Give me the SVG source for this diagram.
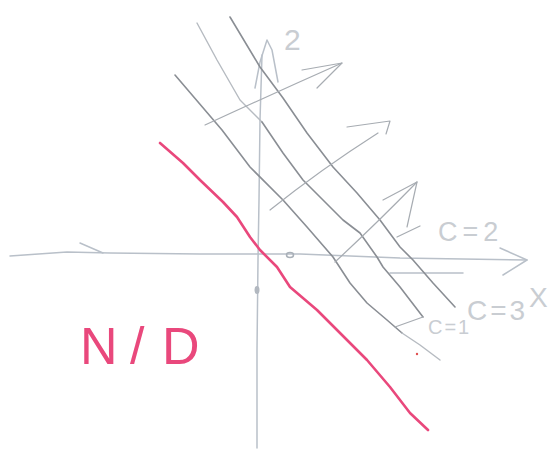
<svg xmlns="http://www.w3.org/2000/svg" width="551" height="453" viewBox="0 0 551 453">
<style>
.ax{fill:none;stroke:#b9c0c9;stroke-width:1.5;stroke-linecap:round;stroke-linejoin:round}
.lvd{fill:none;stroke:#8a8e94;stroke-width:1.6;stroke-linecap:round;stroke-linejoin:round}
.lvl{fill:none;stroke:#b6bbc1;stroke-width:1.4;stroke-linecap:round;stroke-linejoin:round}
.arr{fill:none;stroke:#a7acb2;stroke-width:1.2;stroke-linecap:round;stroke-linejoin:round}
.pk{fill:none;stroke:#e9487c;stroke-width:2.6;stroke-linecap:round;stroke-linejoin:round}
.lbl{font-family:"Liberation Sans",Arial,sans-serif;fill:#c9cdd2}
.nd{font-family:"Liberation Sans",Arial,sans-serif;fill:#e9487c;font-size:52px}
</style>
<rect width="551" height="453" fill="#ffffff"/>
<g id="axes">
<path class="ax" d="M10,256 L67,252 L110,253 L200,254 L260,254 L300,254 L400,258 L527,260"/>
<path class="ax" d="M500,248 L527,260 L503,275"/>
<path class="ax" d="M80,243 L103,253"/>
<path class="ax" d="M390,273 L463,273" stroke-width="1.1"/>
<path class="ax" d="M262,55 L260,120 L259,200 L258,260 L257,350 L257,448"/>
<path class="ax" d="M255,88 L260,62 L267,40 L272,50 L278,82"/>
<ellipse cx="290" cy="255" rx="3.5" ry="2.5" fill="none" stroke="#a9b0b8" stroke-width="1.5"/>
<ellipse cx="257" cy="290" rx="2.5" ry="4" fill="#b2b8c0"/>
<text class="lbl" x="284" y="50" font-size="30">2</text>
<text class="lbl" x="529" y="307" font-size="28">X</text>
</g>
<g id="level-curves">
<path class="lvd" d="M175,75 L222,130 L250,167 L283,200 L307,227 L333,257 L350,283 L367,303 L387,320 L402,333"/>
<path class="lvl" d="M402,333 L420,345 L440,360" stroke="#bccbd4"/>
<path class="lvl" d="M197,23 L217,60 L240,100 L262,122"/>
<path class="lvd" d="M262,122 L283,153 L303,180 L323,200 L343,220 L360,233 L377,257 L383,267 L400,287 L423,317"/>
<path class="lvd" d="M230,17 L260,67 L283,98 L307,133 L333,167 L357,193 L380,220 L400,247 L413,260 L433,283 L455,307"/>
</g>
<g id="gradient-arrows">
<path class="arr" d="M205,125 Q270,95 342,63"/>
<path class="arr" d="M302,70 L342,63 L317,88"/>
<path class="arr" d="M270,210 Q320,170 378,133"/>
<path class="arr" d="M347,127 L390,121 L386,134"/>
<path class="arr" d="M335,262 Q375,225 417,182"/>
<path class="arr" d="M383,200 L417,182 L407,227"/>
<path class="arr" d="M397,237 L420,226"/>
<path class="arr" d="M395,327 L423,317"/>
</g>
<g id="labels">
<text class="lbl" x="438" y="241" font-size="27" letter-spacing="5">C=2</text>
<text class="lbl" x="467" y="320" font-size="28" letter-spacing="3">C=3</text>
<text class="lbl" x="428" y="334" font-size="20" letter-spacing="2">C=1</text>
</g>
<g id="pink-line">
<path class="pk" d="M160,143 L183,163 L200,180 L223,202 L237,217 L250,237 L260,250 L277,267 L290,287 L317,310 L340,333 L367,360 L390,387 L410,413 L428,430"/>
<circle cx="417" cy="354" r="1.2" fill="#e05050"/>
</g>
<g id="nd-label">
<text class="nd" x="80 130 162" y="364">N/D</text>
</g>
</svg>
